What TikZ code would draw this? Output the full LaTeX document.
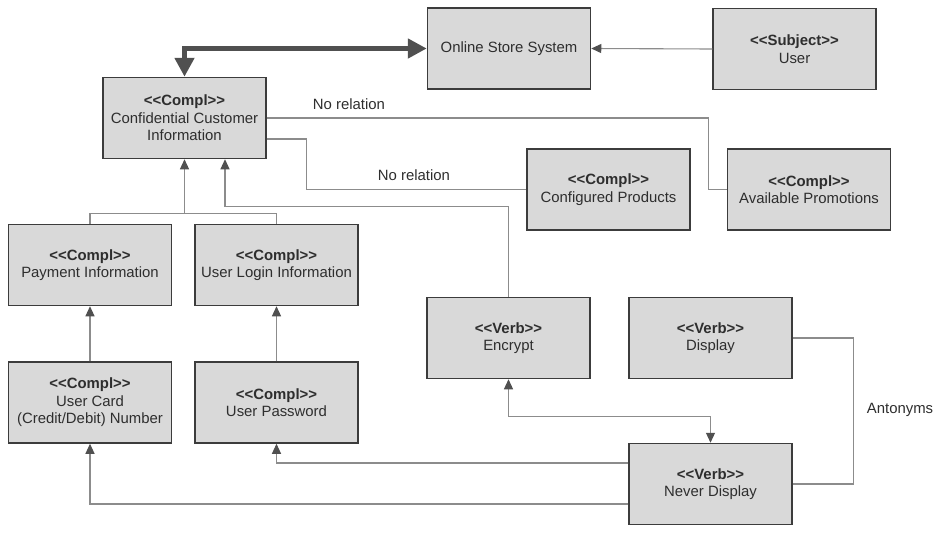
\documentclass[tikz,border=0pt]{standalone}
\usepackage{fontspec}
\setmainfont{Liberation Sans}
\usepackage{tikz}
\usetikzlibrary{arrows.meta, positioning}
\definecolor{grisboite}{HTML}{D9D9D9}
\definecolor{grisbord}{HTML}{3C3C3C}
\definecolor{gristrait}{HTML}{8C8C8C}
\definecolor{grisfleche}{HTML}{505050}
\definecolor{gristexte}{HTML}{2E2E2E}
\newcommand{\stereo}[1]{\textbf{<\kern0pt<#1>\kern0pt>}}

\begin{document}
\begin{tikzpicture}[x=1pt,y=-1pt]
            % Styles
            \tikzstyle{boite}=[rectangle,draw=grisbord,line width=1.5pt,fill=grisboite,text=gristexte,
                minimum width=163pt,minimum height=81pt,inner sep=0pt,align=center,
                font=\fontsize{14.9}{17.5}\selectfont]
            \tikzstyle{lien}=[draw=gristrait,line width=1.1pt]
            \tikzstyle{fleche}=[lien,-{Triangle[length=10pt,width=9pt,color=grisfleche]}]
            \tikzstyle{doublefleche}=[lien,{Triangle[length=10pt,width=9pt,color=grisfleche]}-{Triangle[length=10pt,width=9pt,color=grisfleche]}]
            \tikzstyle{grosse}=[draw=grisfleche,line width=5pt,{Triangle[length=19pt,width=19pt]}-{Triangle[length=19pt,width=19pt]}]
            \tikzstyle{etiquette}=[text=gristexte,font=\fontsize{14.9}{17.5}\selectfont]
            % Cadre
            \useasboundingbox (0,0) rectangle (939,533);
            % Noeuds
            \node[boite] (OSS) at (509,48.5) {Online Store System};
            \node[boite] (User) at (794.5,49) {\stereo{Subject}\\User};
            \node[boite] (CCI) at (184.5,118) {\stereo{Compl}\\Confidential Customer\\Information};
            \node[boite] (CP) at (608.5,189.5) {\stereo{Compl}\\Configured Products};
            \node[boite] (AP) at (809,189.5) {\stereo{Compl}\\Available Promotions};
            \node[boite] (PI) at (90,265) {\stereo{Compl}\\Payment Information};
            \node[boite] (ULI) at (276.5,265) {\stereo{Compl}\\User Login Information};
            \node[boite] (Enc) at (508.5,338) {\stereo{Verb}\\Encrypt};
            \node[boite] (Disp) at (710.5,338) {\stereo{Verb}\\Display};
            \node[boite] (UC) at (90,402.5) {\stereo{Compl}\\User Card\\(Credit/Debit) Number};
            \node[boite] (UP) at (276.5,402.5) {\stereo{Compl}\\User Password};
            \node[boite] (ND) at (710.5,484) {\stereo{Verb}\\Never Display};
            % Etiquettes
            \node[etiquette] (NR1) at (349,104) {No relation};
            \node[etiquette] (NR2) at (414,175) {No relation};
            \node[etiquette] (Ant) at (900,410) {Antonyms};
            % Arcs
            \draw[grosse] (CCI.north) |- (OSS.west);
            \draw[fleche] (User.west) -- (OSS.east);
            \draw[lien] (CCI.east) -- ++(442,0) |- (AP.west);
            \draw[lien] ([yshift=-21pt]CCI.east) -- ++(40,0) |- (CP.west);
            \draw[fleche] (Enc.north) -- ++(0,-90.5) -| ([xshift=40.5pt]CCI.south);
            \draw[lien] (PI.north) -- ++(0,-10) -| (ULI.north);
            \draw[fleche] ([yshift=10pt]CCI.south |- PI.north) -- (CCI.south);
            \draw[fleche] (UC) -- (PI);
            \draw[fleche] (UP) -- (ULI);
            \draw[fleche] ([yshift=21pt]ND.west) -| (UP.south);
            \draw[fleche] ([yshift=-20pt]ND.west) -| (UC.south);
            \draw[doublefleche] (Enc.south) -- ++(0,37.5) -| (ND.north);
            \draw[lien] (Disp.east) -- ++(61,0) |- (ND.east);
        \end{tikzpicture}
\end{document}
